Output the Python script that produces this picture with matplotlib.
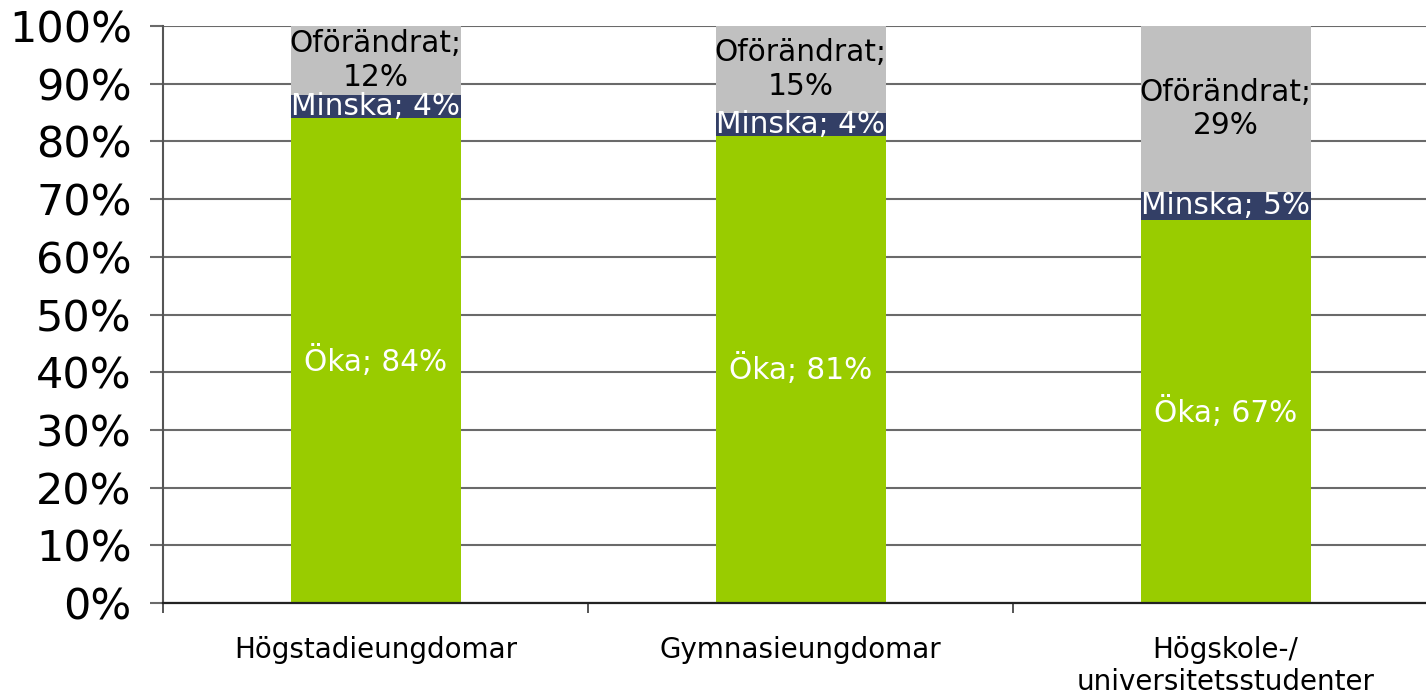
import numpy as np
import matplotlib
matplotlib.use("Agg")
import matplotlib.pyplot as plt
from matplotlib.ticker import MultipleLocator, FuncFormatter

# === DATA ===
categories = ["Högstadieungdomar", "Gymnasieungdomar", "Högskole-/\nuniversitetsstudenter"]
series_names = ["Öka", "Minska", "Oförändrat"]
oka = [84, 81, 67]
minska = [4, 4, 5]
oforandrat = [12, 15, 29]

colors = ["#99CC00", "#333F66", "#C0C0C0"]
text_colors = ["white", "white", "black"]

values = np.array([oka, minska, oforandrat], dtype=float)
# 100% stacked: normalise each column to its total
shares = values / values.sum(axis=0) * 100.0

fig = plt.figure(figsize=(14.26, 6.95), dpi=100)
# axes runs a little past the right edge, like the original slide
ax = fig.add_axes([163 / 1426, 92 / 695, 1275 / 1426, (603 - 26) / 695])

x = np.arange(len(categories))
bottom = np.zeros(len(categories))
for i, name in enumerate(series_names):
    ax.bar(x, shares[i], bottom=bottom, width=0.4, color=colors[i],
           zorder=3, linewidth=0)
    for j in range(len(categories)):
        label = f"{name}; {int(values[i, j])}%"
        if name == "Oförändrat":
            label = f"{name};\n{int(values[i, j])}%"
        ax.text(x[j], bottom[j] + shares[i, j] / 2, label, ha="center", va="center",
                color=text_colors[i], fontsize=21.3, linespacing=1.2, zorder=4)
    bottom += shares[i]

ax.set_xlim(-0.5, 2.5)
ax.set_ylim(0, 100)
ax.yaxis.set_major_locator(MultipleLocator(10))
ax.yaxis.set_major_formatter(FuncFormatter(lambda v, p: f"{v:.0f}%"))
ax.grid(axis="y", color="#6a6a6a", linewidth=1.5, zorder=0)
ax.tick_params(axis="y", labelsize=31, length=9.5, width=1.5, color="#6a6a6a", pad=13)

ax.set_xticks([-0.5, 0.5, 1.5, 2.5])
ax.set_xticklabels([])
ax.set_xticks(x, minor=True)
ax.set_xticklabels(categories, minor=True, fontsize=20, linespacing=1.15)
ax.tick_params(axis="x", which="major", length=7, width=1.4, color="#555555")
ax.tick_params(axis="x", which="minor", length=0, pad=24)

for side in ["top", "right"]:
    ax.spines[side].set_visible(False)
ax.spines["left"].set_color("#555555")
ax.spines["left"].set_linewidth(1.5)
ax.spines["bottom"].set_color("#222222")
ax.spines["bottom"].set_linewidth(1.6)
ax.spines["bottom"].set_zorder(5)

fig.savefig("out.png", dpi=100)
